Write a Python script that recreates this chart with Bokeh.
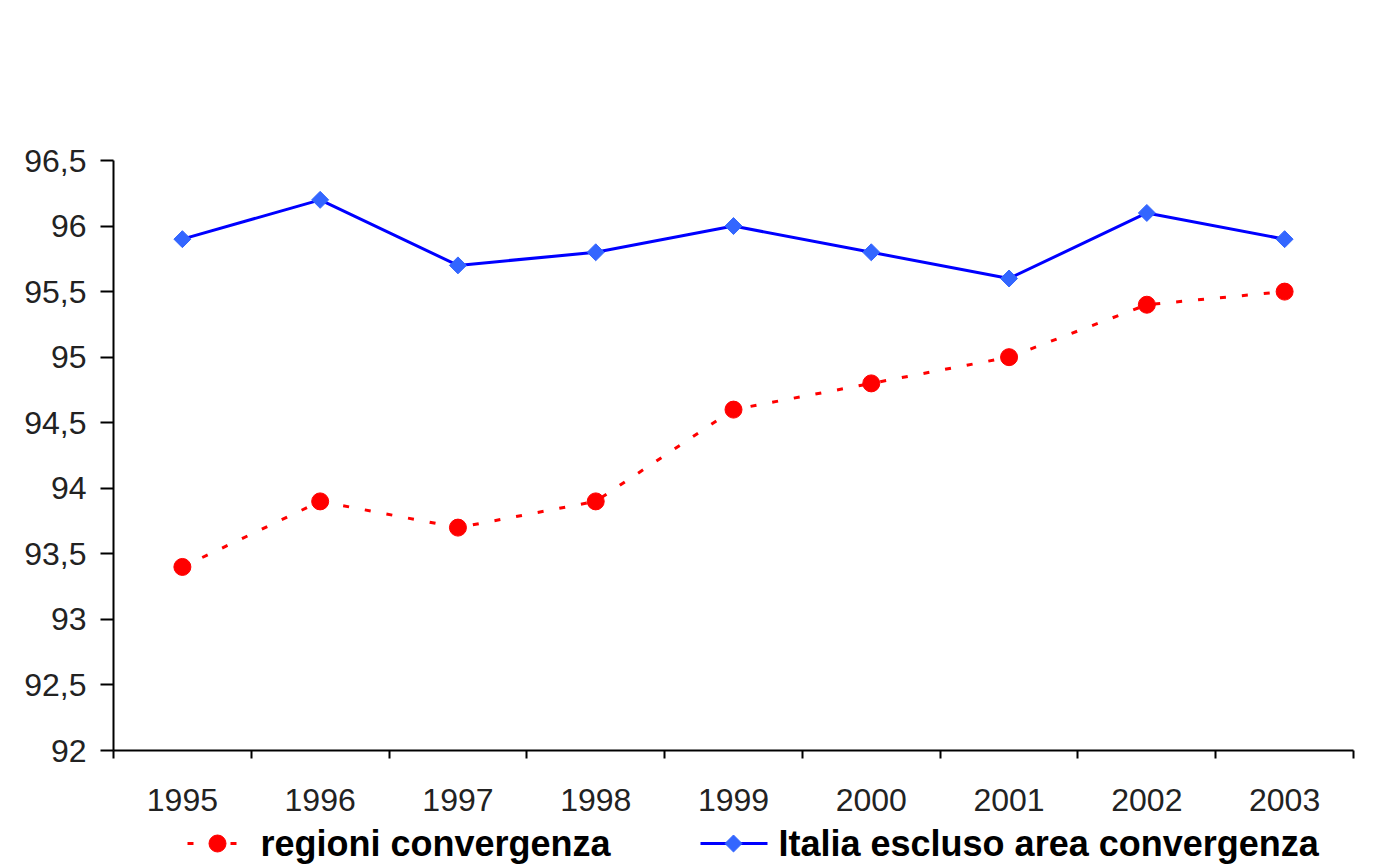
import math
from bokeh.plotting import figure
from bokeh.layouts import column
from bokeh.models import FixedTicker, Range1d
from bokeh.core.properties import value
from bokeh.embed import file_html
from bokeh.resources import INLINE

years = ["1995", "1996", "1997", "1998", "1999", "2000", "2001", "2002", "2003"]
regioni = [93.4, 93.9, 93.7, 93.9, 94.6, 94.8, 95.0, 95.4, 95.5]
italia = [95.9, 96.2, 95.7, 95.8, 96.0, 95.8, 95.6, 96.1, 95.9]
y_ticks = [92, 92.5, 93, 93.5, 94, 94.5, 95, 95.5, 96, 96.5]
y_labels = ["92", "92,5", "93", "93,5", "94", "94,5", "95", "95,5", "96", "96,5"]
series_names = ["regioni convergenza", "Italia escluso area convergenza"]

xs = [i + 0.5 for i in range(len(years))]

FONT = "Liberation Sans"
RED = "#FF0000"
BLUE = "#0000FF"
BLUE_MARK = "#3366FF"

p = figure(width=1375, output_backend="svg", toolbar_location=None,
           x_range=Range1d(0, len(years)), y_range=Range1d(92, 96.5),
           frame_width=1240, frame_height=590,
           min_border_left=113, min_border_right=22, min_border_top=160, min_border_bottom=70)

p.background_fill_color = "white"
p.border_fill_color = "white"
p.outline_line_color = None
p.xgrid.visible = False
p.ygrid.visible = False

p.xaxis.ticker = FixedTicker(ticks=xs, minor_ticks=list(range(len(years) + 1)))
p.xaxis.major_label_overrides = {x: y for x, y in zip(xs, years)}
p.xaxis.major_tick_out = 0
p.xaxis.major_tick_in = 0
p.xaxis.minor_tick_out = 8
p.xaxis.minor_tick_in = 0
p.xaxis.minor_tick_line_color = "black"
p.xaxis.minor_tick_line_width = 2
p.xaxis.axis_line_color = "black"
p.xaxis.axis_line_width = 2
p.xaxis.major_label_text_font = FONT
p.xaxis.major_label_text_font_size = "32px"
p.xaxis.major_label_text_color = "#222222"
p.xaxis.major_label_standoff = 30

p.yaxis.ticker = FixedTicker(ticks=y_ticks, minor_ticks=[])
p.yaxis.major_label_overrides = {t: l for t, l in zip(y_ticks, y_labels)}
p.yaxis.major_tick_out = 13
p.yaxis.major_tick_in = 0
p.yaxis.major_tick_line_color = "black"
p.yaxis.major_tick_line_width = 2
p.yaxis.axis_line_color = "black"
p.yaxis.axis_line_width = 2
p.yaxis.major_label_text_font = FONT
p.yaxis.major_label_text_font_size = "32px"
p.yaxis.major_label_text_color = "#222222"
p.yaxis.major_label_standoff = 14

p.line(xs, regioni, line_color=RED, line_width=3, line_dash="6 16")
p.scatter(xs, regioni, marker="circle", size=17, fill_color=RED, line_color=RED)
p.line(xs, italia, line_color=BLUE, line_width=3)
p.scatter(xs, italia, marker="square", angle=math.pi / 4, size=12,
          fill_color=BLUE_MARK, line_color=BLUE_MARK)

# legend strip below the chart; its frame is aligned with the chart frame (113..1353 px)
LH = 47
p2 = figure(width=1375, height=LH, output_backend="svg", toolbar_location=None,
            x_axis_type=None, y_axis_type=None,
            x_range=Range1d(113, 1353), y_range=Range1d(0, LH),
            min_border_left=0, min_border_right=0, min_border_top=0, min_border_bottom=0)
p2.outline_line_color = None
p2.background_fill_color = "white"
p2.border_fill_color = "white"
p2.grid.visible = False

cy = LH - 23
p2.line([187, 237], [cy, cy], line_color=RED, line_width=3, line_dash="6 37")
p2.scatter([217], [cy], marker="circle", size=17, fill_color=RED, line_color=RED)
p2.text([260], [cy], text=[series_names[0]], text_font=value(FONT), text_font_style="bold",
        text_font_size=value("36px"), text_color="black", text_baseline="middle", text_align="left")
p2.line([700, 767], [cy, cy], line_color=BLUE, line_width=3)
p2.scatter([733], [cy], marker="square", angle=math.pi / 4, size=12,
           fill_color=BLUE_MARK, line_color=BLUE_MARK)
p2.text([778], [cy], text=[series_names[1]], text_font=value(FONT), text_font_style="bold",
        text_font_size=value("36px"), text_color="black", text_baseline="middle", text_align="left")

layout = column(p, p2, spacing=0)
html = file_html(layout, INLINE)
open("out.html", "w").write(html)
